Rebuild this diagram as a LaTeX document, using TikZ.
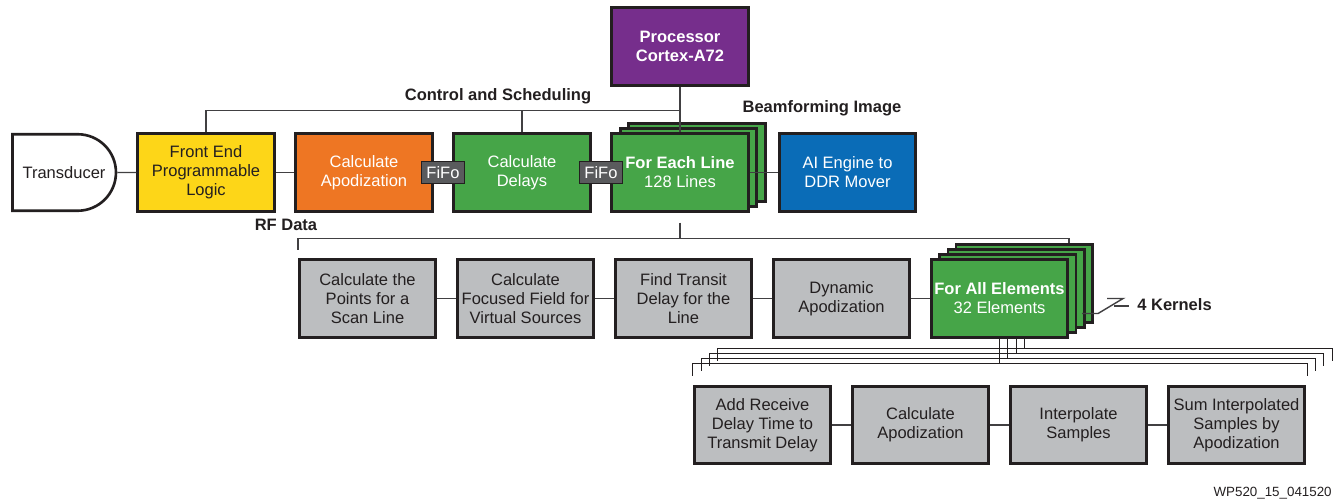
\documentclass[tikz,border=0pt]{standalone}
\usepackage{fontspec}
\setmainfont{Liberation Sans}
\usetikzlibrary{calc,shapes.misc}

\definecolor{feyellow}{RGB}{253,214,24}
\definecolor{aporange}{RGB}{238,118,35}
\definecolor{apgreen}{RGB}{70,165,72}
\definecolor{aiblue}{RGB}{10,108,183}
\definecolor{cpupurple}{RGB}{118,46,140}
\definecolor{boxgrey}{RGB}{188,190,192}
\definecolor{fifogrey}{RGB}{90,91,93}
\definecolor{boxline}{RGB}{35,31,32}
\definecolor{linegrey}{RGB}{65,64,66}

\newcommand{\diagfont}{\fontsize{9.4}{10.7}\selectfont}

\tikzset{
  box/.style={draw=boxline, line width=1.5pt, minimum width=2.73cm, minimum height=1.55cm,
    align=center, inner sep=0pt, text=boxline},
  greybox/.style={box, fill=boxgrey},
  greenbox/.style={box, fill=apgreen, text=white},
  transducer/.style={rounded rectangle, rounded rectangle left arc=none, draw=boxline,
    line width=1.5pt, minimum width=2.07cm, minimum height=1.53cm, inner sep=0pt,
    fill=white, text=boxline},
  fifo/.style={draw=boxline, line width=1.1pt, fill=fifogrey, text=white,
    minimum width=0.86cm, minimum height=0.44cm, inner sep=0pt},
  link/.style={draw=linegrey, line width=0.8pt},
  bus/.style={draw=boxline, line width=0.6pt},
  lbl/.style={font=\diagfont\bfseries, text=boxline, inner sep=0pt}
}

\begin{document}
\begin{tikzpicture}[x=0.02cm, y=-0.02cm, every node/.append style={font=\diagfont}]
\useasboundingbox (0,0) rectangle (1339,499);

% line processing row
\node[transducer] (trans) at (64,172.5) {Transducer};
\node[box, fill=feyellow] (fe) at (206,172.5) {Front End\\Programmable\\Logic};
\node[box, fill=aporange, text=white] (apod) at (364,172.5) {Calculate\\Apodization};
\node[greenbox] (delays) at (522,172.5) {Calculate\\Delays};
\foreach \k in {2,1}
  \node[greenbox] (line\k) at (680+8.5*\k,172.5-5*\k) {};
\node[greenbox] (line0) at (680,172.5) {\textbf{For Each Line}\\128 Lines};
\node[box, fill=aiblue, text=white] (ai) at (847.5,172.5) {AI Engine to\\DDR Mover};
\node[box, fill=cpupurple, text=white, font=\diagfont\bfseries] (proc) at (680,46.5) {Processor\\Cortex-A72};

% per line
\foreach \x/\n/\t in {367.5/r1/{Calculate the\\Points for a\\Scan Line},
    525.5/r2/{Calculate\\Focused Field for\\Virtual Sources},
    683.5/r3/{Find Transit\\Delay for the\\Line},
    841.5/r4/{Dynamic\\Apodization}} {
  \node[greybox] (\n) at (\x,298.5) {\t};
}
\foreach \k in {3,2,1}
  \node[greenbox] (kern\k) at (999.5+8.3*\k,298.5-5*\k) {};
\node[greenbox] (kern0) at (999.5,298.5) {\textbf{For All Elements}\\32 Elements};

% per element
\foreach \x/\n/\t in {762.5/s1/{Add Receive\\Delay Time to\\Transmit Delay},
    920.5/s2/{Calculate\\Apodization},
    1078.5/s3/{Interpolate\\Samples},
    1236.5/s4/{Sum Interpolated\\Samples by\\Apodization}} {
  \node[greybox] (\n) at (\x,425) {\t};
}

% connectors
\foreach \a/\b in {trans/fe, fe/apod, apod/delays, delays/line0, line0/ai,
    r1/r2, r2/r3, r3/r4, r4/kern0, s1/s2, s2/s3, s3/s4}
  \draw[link] (\a) -- (\b);

\coordinate (ctl) at ($(proc.south)+(0,24)$);
\draw[link] (proc) -- (line0);
\draw[link] (fe.north) |- (ctl);
\draw[link] (delays.north) -- (delays.north |- ctl);

\coordinate (rf) at ($(line0.south)+(0,26)$);
\draw[link, shorten <=0.2cm] (line0.south) -- (rf);
\draw[link, shorten >=0.16cm] (rf) -| (r1.north west);
\draw[link] (rf) -| (kern0.east |- kern3.north);

\foreach \k in {0,...,3} {
  \coordinate (kb\k) at ($(kern\k.south)+(0,25)$);
  \draw[bus] (kern\k.south |- kern0.south) -- (kb\k);
  \draw[bus] (kb\k) -| ($(s1.north west)+(8.3*\k,-9-5*\k)$);
  \draw[bus] (kb\k) -| ($(s4.north east)+(1.3+8.3*\k,-9-5*\k)$);
}

\node[fifo] (fifo1) at ($(apod.east)!0.5!(delays.west)$) {FiFo};
\node[fifo] (fifo2) at ($(delays.east)!0.5!(line0.west)$) {FiFo};

% labels
\node[lbl, anchor=base] (ctllbl) at (498,101) {Control and Scheduling};
\node[lbl, anchor=base] (bflbl) at (822,113) {Beamforming Image};
\node[lbl, anchor=base] (rflbl) at (286,231) {RF Data};
\node[lbl, anchor=base west] (kernlbl) at (1137,311) {4 Kernels};
\draw[link] ($(kern0.east)+(13,15)$) -- ++(16,0) -- ++(25,-15) -- ++(-16,0);
\draw[link] ($(kernlbl.west)+(-23,1)$) -- ++(15,0);
\node[font=\fontsize{7.6}{9}\selectfont, text=boxline, inner sep=0pt, anchor=base east] (docid) at (1332,497) {WP520\_15\_041520};
\end{tikzpicture}
\end{document}
